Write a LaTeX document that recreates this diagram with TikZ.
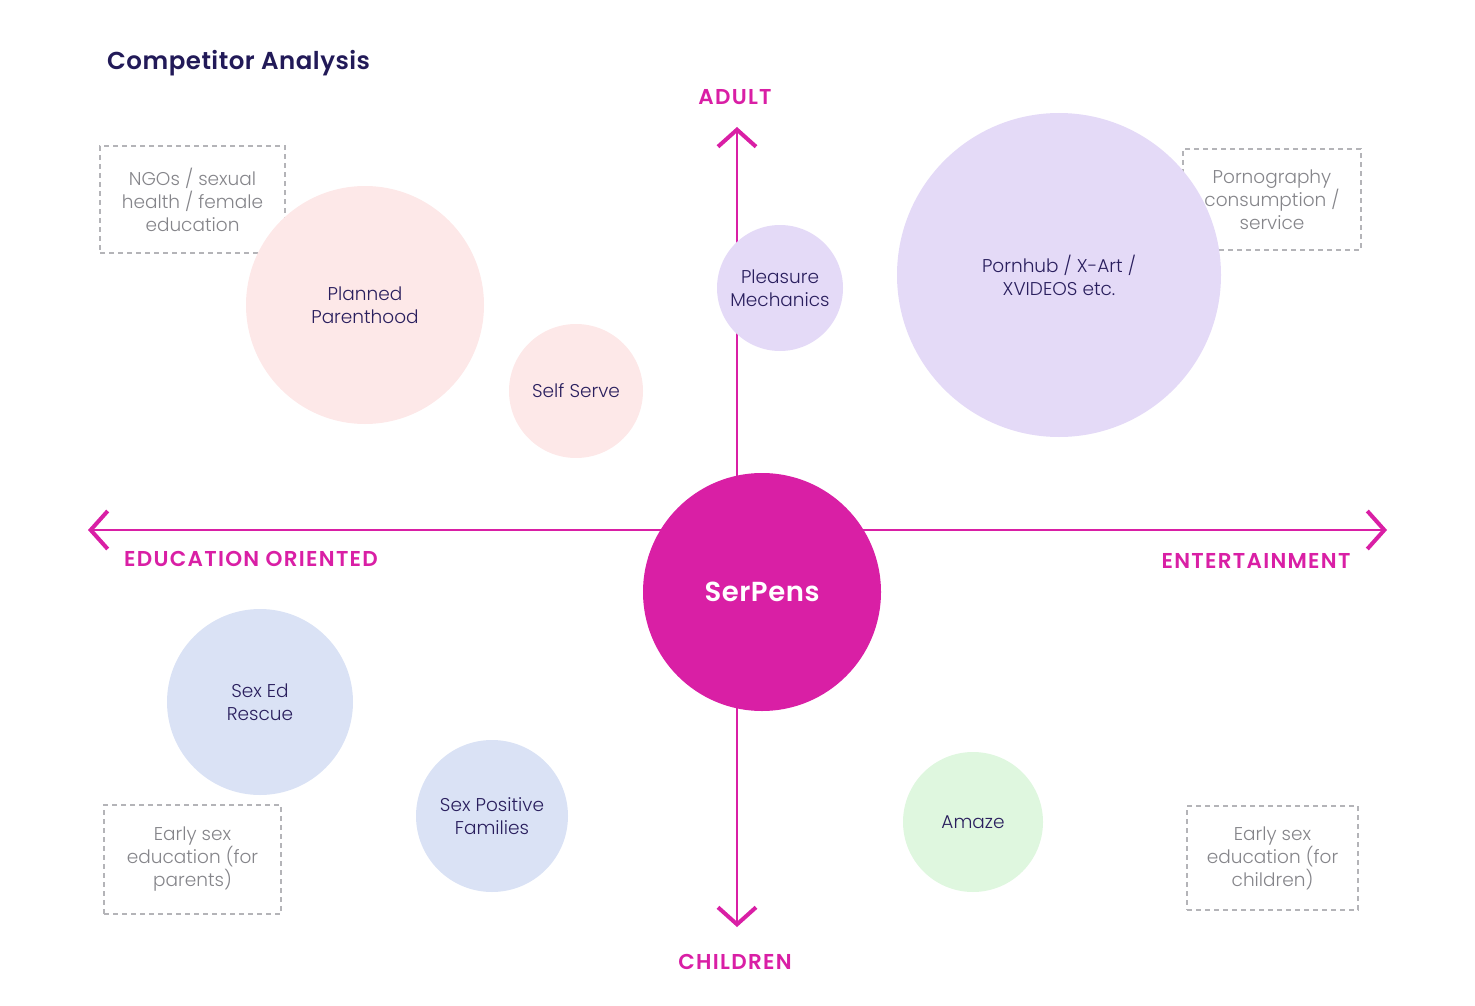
\documentclass[tikz,border=0pt]{standalone}
\usepackage{fontspec}
\IfFontExistsTF{Poppins Light}{\setmainfont{Poppins Light}}{\setmainfont{Poppins}}
\IfFontExistsTF{Poppins SemiBold}{\newfontfamily\headfont{Poppins SemiBold}[LetterSpace=6]}{\newfontfamily\headfont{Poppins}[LetterSpace=6]}
\IfFontExistsTF{Poppins SemiBold}{\newfontfamily\titlefont{Poppins SemiBold}[LetterSpace=2]}{\newfontfamily\titlefont{Poppins}[LetterSpace=2]}
\usetikzlibrary{arrows.meta}
\definecolor{mag}{HTML}{D91FA5}
\definecolor{navy}{HTML}{2A1F5E}
\definecolor{titlenavy}{HTML}{221A58}
\definecolor{greytxt}{HTML}{85858A}
\definecolor{dashgrey}{HTML}{B4B4B8}
\definecolor{cpink}{HTML}{FDE8E8}
\definecolor{clav}{HTML}{E4DAF7}
\definecolor{cblue}{HTML}{DAE2F5}
\definecolor{cgreen}{HTML}{DFF7DF}
\begin{document}
\begin{tikzpicture}[x=1pt,y=-1pt,
  axis/.style={draw=mag, line width=2.6pt, -{Straight Barb[length=17pt,width=38pt,line width=4pt]}},
  axlabel/.style={text=mag, font=\fontsize{21.5}{24}\headfont},
  bubble/.style={circle, inner sep=0pt, align=center, text=navy, font=\fontsize{18.5}{23}\selectfont},
  catbox/.style={draw=dashgrey, dash pattern=on 5pt off 4pt, line width=1.2pt, text=greytxt, align=center, font=\fontsize{18.5}{23}\selectfont, inner sep=0pt}
]
\useasboundingbox (0,0) rectangle (1475,1006);
% title
\node[anchor=west, text=titlenavy, font=\fontsize{24.5}{28}\titlefont, inner sep=0pt] (title) at (107,63.5) {Competitor Analysis};
% axes
\coordinate (origin) at (737,530);
\coordinate (top) at (737,127);
\coordinate (bottom) at (737,927);
\coordinate (left) at (88,530);
\coordinate (right) at (1387,530);
\draw[axis] (origin) -- (top);
\draw[axis] (origin) -- (bottom);
\draw[axis] (origin) -- (left);
\draw[axis] (origin) -- (right);
\node[axlabel] (adult) at (735,97.5) {ADULT};
\node[axlabel] (children) at (735,961.5) {CHILDREN};
\node[axlabel] (edu) at (251,558.5) {EDUCATION ORIENTED};
\node[axlabel] (ent) at (1256,560.5) {ENTERTAINMENT};
% dashed category boxes
\node[catbox, minimum width=185pt, minimum height=107pt] (ngo) at (192.5,199.5) {NGOs / sexual\\health / female\\education};
\node[catbox, minimum width=178pt, minimum height=101pt] (porncat) at (1272,199.5) {Pornography\\consumption /\\service};
\node[catbox, minimum width=177pt, minimum height=109pt] (parents) at (192.5,859.5) {Early sex\\education (for\\parents)};
\node[catbox, minimum width=171pt, minimum height=104pt] (kids) at (1272.5,858) {Early sex\\education (for\\children)};
% bubbles
\node[bubble, fill=cpink, minimum size=238pt] (pp) at (365,305) {Planned\\Parenthood};
\node[bubble, fill=cpink, minimum size=134pt] (ss) at (576,391) {Self Serve};
\node[bubble, fill=clav, minimum size=126pt] (pm) at (780,288) {Pleasure\\Mechanics};
\node[bubble, fill=clav, minimum size=324pt] (ph) at (1059,275) {Pornhub / X-Art /\\XVIDEOS etc.};
\node[bubble, fill=cblue, minimum size=186pt] (ser) at (260,702) {Sex Ed\\Rescue};
\node[bubble, fill=cblue, minimum size=152pt] (spf) at (492,816) {Sex Positive\\Families};
\node[bubble, fill=cgreen, minimum size=140pt] (amaze) at (973,822) {Amaze};
\node[bubble, fill=mag, minimum size=238pt, text=white, font=\fontsize{27.5}{30}\titlefont] (serpens) at (762,592) {SerPens};
\end{tikzpicture}
\end{document}
